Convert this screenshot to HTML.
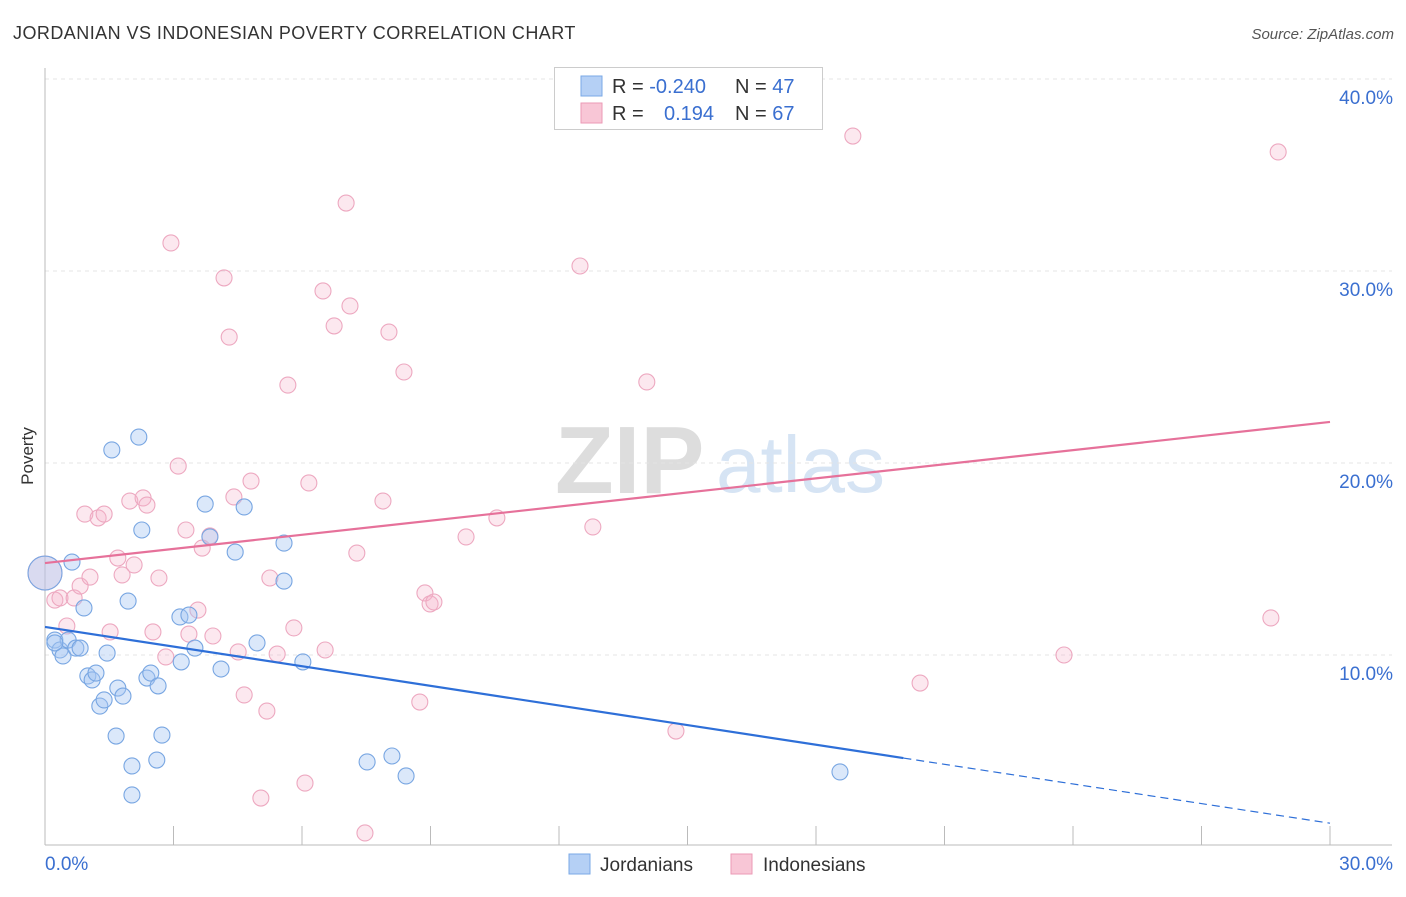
<!DOCTYPE html>
<html><head><meta charset="utf-8"><style>
body{margin:0;background:#fff;font-family:"Liberation Sans",sans-serif}
svg text{font-family:"Liberation Sans",sans-serif}
</style></head><body>
<svg id="chart" width="1406" height="892" xmlns="http://www.w3.org/2000/svg">
<text x="13" y="39" font-size="18" letter-spacing="0.45" fill="#333">JORDANIAN VS INDONESIAN POVERTY CORRELATION CHART</text>
<text x="1394" y="39" font-size="15" fill="#555" font-style="italic" text-anchor="end">Source: ZipAtlas.com</text>
<g>
<text x="555" y="493" font-size="96" fill="#ddd" font-family="Liberation Serif" font-weight="bold">ZIP</text>
<text x="716" y="492" font-size="80" fill="#d6e4f4">atlas</text>
</g>
<g id="grid"></g>
<g id="axes"></g>
<g id="marks"></g>
<text transform="translate(33,456) rotate(-90)" font-size="17" fill="#333" text-anchor="middle">Poverty</text>
<g>
<rect x="554.5" y="67.5" width="268" height="62" fill="#fff" stroke="#ccc"/>
<rect x="581" y="76" width="21" height="20" fill="#b5d0f5" stroke="#7aa8e6"/>
<rect x="581" y="103" width="21" height="20" fill="#f8c6d6" stroke="#eb9ab6"/>
<text x="612" y="93" font-size="20" fill="#333">R = <tspan fill="#3a6fd0">-0.240</tspan></text>
<text x="735" y="93" font-size="20" fill="#333">N = <tspan fill="#3a6fd0">47</tspan></text>
<text x="612" y="120" font-size="20" fill="#333">R = <tspan fill="#3a6fd0" x="664">0.194</tspan></text>
<text x="735" y="120" font-size="20" fill="#333">N = <tspan fill="#3a6fd0">67</tspan></text>
</g>
<g>
<rect x="569" y="854" width="21" height="20" fill="#b5d0f5" stroke="#7aa8e6"/>
<text x="600" y="871" font-size="19" fill="#333">Jordanians</text>
<rect x="731" y="854" width="21" height="20" fill="#f8c6d6" stroke="#eb9ab6"/>
<text x="763" y="871" font-size="19" fill="#333">Indonesians</text>
</g>
</svg>
<script>
const yTicks=[10,20,30,40];
const yTickLabels=["10.0%","20.0%","30.0%","40.0%"];
const xTicks=[0,3,6,9,12,15,18,21,24,27,30];
const jordX=[0,0.23,0.35,0.42,0.54,0.63,0.72,0.82,0.91,1.00,1.10,1.19,1.28,1.38,1.45,1.56,1.66,1.70,1.82,1.94,2.03,2.03,2.19,2.26,2.38,2.47,2.61,2.64,2.73,3.15,3.18,3.36,3.50,3.74,3.85,4.11,4.44,4.65,4.95,5.58,5.58,6.02,7.52,8.10,8.43,18.56,0.23];
const jordY=[14.27,10.78,10.26,9.95,10.78,14.84,10.36,10.36,12.45,8.91,8.70,9.06,7.34,7.66,10.10,20.68,5.78,8.28,7.86,12.81,4.22,2.71,21.35,16.51,8.80,9.06,4.53,8.39,5.83,11.98,9.64,12.08,10.36,17.86,16.15,9.27,15.36,17.71,10.63,15.83,13.85,9.64,4.43,4.74,3.70,3.91,10.63];
const indoX=[0,0.23,0.35,0.51,0.68,0.82,0.93,1.05,1.24,1.38,1.52,1.70,1.80,1.98,2.08,2.29,2.38,2.52,2.66,2.82,2.94,3.11,3.29,3.36,3.57,3.67,3.85,3.92,4.18,4.30,4.41,4.51,4.65,4.81,5.18,5.04,5.25,5.42,5.67,5.81,6.07,6.16,6.49,6.54,6.75,7.03,7.12,7.28,7.47,7.89,8.03,8.38,8.75,8.87,8.99,9.08,9.83,10.55,12.49,12.79,14.05,14.73,18.86,20.43,23.79,28.62,28.79];
const indoY=[14.27,12.86,12.97,11.51,12.97,13.59,17.34,14.06,17.14,17.34,11.20,15.05,14.17,18.02,14.69,18.18,17.81,11.20,14.01,9.90,31.46,19.84,16.51,11.09,12.34,15.57,16.20,10.99,29.64,26.56,18.23,10.16,7.92,19.06,7.08,2.55,14.01,10.05,24.06,11.41,3.33,18.96,28.96,10.26,27.14,33.54,28.18,15.31,0.73,18.02,26.82,24.74,7.55,13.23,12.66,12.76,16.15,17.14,30.26,16.67,24.22,6.04,37.03,8.54,10.00,11.93,36.20];
const jordTrend=[11.46,-0.3407];
const jordSolidEnd=20.04;
const indoTrend=[14.79,0.245];
const NS="http://www.w3.org/2000/svg";
const xs=v=>45+v/30*1285, ys=v=>847-v*19.2;
function mk(tag,a,p){const e=document.createElementNS(NS,tag);for(const k in a)e.setAttribute(k,a[k]);p.appendChild(e);return e;}
const grid=document.getElementById('grid'),axes=document.getElementById('axes'),marks=document.getElementById('marks');
yTicks.forEach((t,i)=>{
 const l=mk('line',{x1:45,x2:1392,y1:ys(t),y2:ys(t),stroke:'#e4e4e4','stroke-dasharray':'4,4'},grid);
 
 
 const tx=mk('text',{x:1393,y:ys(t)+25,'font-size':19,fill:'#3a6fd0','text-anchor':'end'},axes);
 tx.textContent=yTickLabels[i];
 
 
});
let a=mk('line',{x1:45,x2:45,y1:68,y2:845,stroke:'#bbb'},axes);


a=mk('line',{x1:45,x2:1392,y1:845,y2:845,stroke:'#bbb'},axes);


xTicks.forEach(t=>{const l=mk('line',{x1:xs(t),x2:xs(t),y1:826,y2:845,stroke:'#bbb'},axes);
 
 });
let t0=mk('text',{x:45,y:870,'font-size':19,fill:'#3a6fd0'},axes);t0.textContent='0.0%';


t0=mk('text',{x:1393,y:870,'font-size':19,fill:'#3a6fd0','text-anchor':'end'},axes);t0.textContent='30.0%';


function pts(X,Y,fill,stroke,name){X.forEach((x,i)=>{const c=mk('circle',{cx:xs(x),cy:ys(Y[i]),r:i===0?17:8,fill:fill,stroke:stroke,'stroke-width':1.1},marks);
 
 });}
pts(indoX,indoY,'rgba(246,180,202,0.3)','#eda8c0','indonesian-point');
pts(jordX,jordY,'rgba(165,198,242,0.4)','#78a6e2','jordanian-point');
const f=(tr,x)=>tr[0]+tr[1]*x;
let ln=mk('line',{x1:xs(0),y1:ys(f(indoTrend,0)),x2:xs(30),y2:ys(f(indoTrend,30)),stroke:'#e6719a','stroke-width':2.2},marks);


ln=mk('line',{x1:xs(0),y1:ys(f(jordTrend,0)),x2:xs(jordSolidEnd),y2:ys(f(jordTrend,jordSolidEnd)),stroke:'#2e6fd8','stroke-width':2.2},marks);


ln=mk('line',{x1:xs(jordSolidEnd),y1:ys(f(jordTrend,jordSolidEnd)),x2:xs(30),y2:ys(f(jordTrend,30)),stroke:'#2e6fd8','stroke-width':1.2,'stroke-dasharray':'8,5'},marks);


</script>
</body></html>
